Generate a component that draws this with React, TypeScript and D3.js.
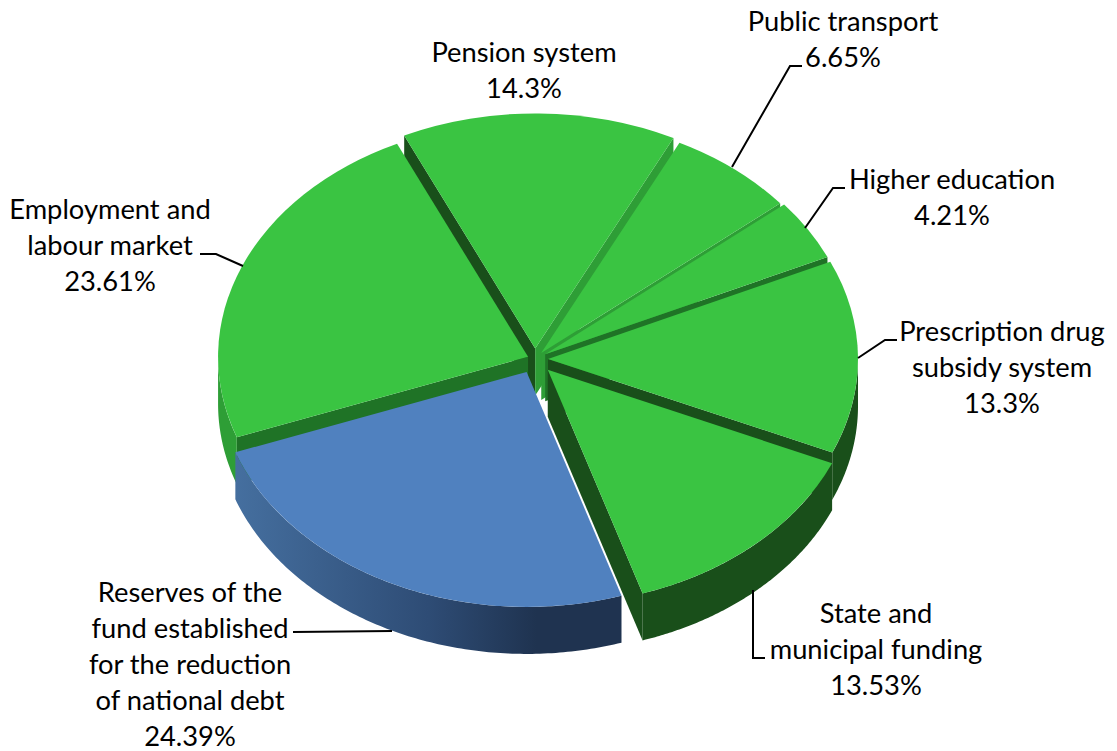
import React from "react";
import * as d3 from "d3";

const categories = ["Pension system", "Public transport", "Higher education", "Prescription drug subsidy system", "State and municipal funding", "Reserves of the fund established for the reduction of national debt", "Employment and labour market"];
const shares = [14.3, 6.65, 4.21, 13.3, 13.53, 24.39, 23.61];
const shareLabels = ["14.3%", "6.65%", "4.21%", "13.3%", "13.53%", "24.39%", "23.61%"];
const labelLines = [
  ["Pension system"],
  ["Public transport"],
  ["Higher education"],
  ["Prescription drug", "subsidy system"],
  ["State and", "municipal funding"],
  ["Reserves of the", "fund established", "for the reduction", "of national debt"],
  ["Employment and", "labour market"],
];
const explode = [14, 10, 12, 13, 19, 19, 7.5];

const W = 1117, H = 751;
const CX = 535, CY = 359, RX = 310, RATIO = 0.758, DEPTH = 47;
const START = (-25 * Math.PI) / 180;
const TOP = "#3AC442", BLUE = "#5081BF", DARK = "#194F1A", MID = "#2E9E36", DEEP = "#1F7326";

// [start-cut wall, end-cut wall, outer wall]
const wallFill = [
  [DARK, MID, MID],
  [MID, MID, MID],
  [DEEP, DEEP, DEEP],
  [DARK, DARK, DARK],
  [DARK, DARK, DARK],
  ["#1F3350", "#1F3350", "url(#blueWall)"],
  [DEEP, DARK, MID],
];
const topFill = [TOP, TOP, TOP, TOP, TOP, BLUE, TOP];
const labelCenter: [number, number][] = [[524, 53], [843, 22], [952, 180], [1002, 332], [876, 614], [190, 592.5], [110, 210]];
const leaders: [number, number][][] = [
  [],
  [[732, 167], [790, 66], [802, 66]],
  [[805, 228], [833, 188], [845, 188]],
  [[858, 358], [885, 340], [897, 340]],
  [[753, 590], [753, 658], [765, 658]],
  [[392, 631], [293, 632]],
  [[243, 266], [216, 254], [200, 254]],
];
// draw order, back to front
const paintOrder = [0, 1, 2, 3, 6, 4, 5];

const LINE = 36;
const FONT = "Lato, 'Open Sans', sans-serif";

export default function App() {
  const arcs = d3.pie<number>().sort(null).startAngle(START).endAngle(START + 2 * Math.PI)(shares);
  const arcGen = d3.arc<any>().innerRadius(0).outerRadius(RX);
  const line = d3.line();
  const px = (a: number, r = RX): [number, number] => [Math.sin(a) * r, -Math.cos(a) * r * RATIO];

  return (
    <svg width={W} height={H} style={{ position: "absolute", left: 0, top: 0, background: "#fff" }}>
      <defs>
        <linearGradient id="blueWall" x1="0" x2="1" y1="0" y2="0">
          <stop offset="0" stopColor="#456F9F" />
          <stop offset="0.5" stopColor="#2E4C75" />
          <stop offset="0.78" stopColor="#1F3350" />
          <stop offset="1" stopColor="#1F3350" />
        </linearGradient>
      </defs>
      {paintOrder.map((i) => {
        const d = arcs[i];
        const mid = (d.startAngle + d.endAngle) / 2;
        const [ox, oy] = px(mid, explode[i]);
        const x0 = CX + ox, y0 = CY + oy;
        const s = px(d.startAngle), e = px(d.endAngle);
        const angles = d3
          .range(0, 121)
          .map((k) => d.startAngle + ((d.endAngle - d.startAngle) * k) / 120)
          .filter((a) => Math.cos(a) <= 0);
        const rim = angles.map((a) => px(a));
        const outer: [number, number][] = [...rim, ...rim.slice().reverse().map(([x, y]) => [x, y + DEPTH] as [number, number])];
        const cut = (p: [number, number]) => line([[0, 0], p, [p[0], p[1] + DEPTH], [0, DEPTH]]) + "Z";
        return (
          <g key={categories[i]} transform={`translate(${x0},${y0})`}>
            {Math.sin(d.startAngle) < 0 && <path d={cut(s)} fill={wallFill[i][0]} />}
            {Math.sin(d.endAngle) > 0 && <path d={cut(e)} fill={wallFill[i][1]} />}
            {rim.length > 1 && <path d={line(outer) + "Z"} fill={wallFill[i][2]} />}
            <path d={arcGen(d) as string} transform={`scale(1,${RATIO})`} fill={topFill[i]} />
          </g>
        );
      })}
      {leaders.map((pts, i) =>
        pts.length ? <path key={i} d={line(pts) as string} fill="none" stroke="#000" strokeWidth={2} /> : null
      )}
      {labelLines.map((lines, i) => {
        const [cx, cy] = labelCenter[i];
        return (
          <text key={i} textAnchor="middle" fontFamily={FONT} fontSize={27.3} fill="#000">
            {[...lines, shareLabels[i]].map((t, j) => (
              <tspan key={j} x={cx} y={cy + 9 + j * LINE}>{t}</tspan>
            ))}
          </text>
        );
      })}
    </svg>
  );
}
